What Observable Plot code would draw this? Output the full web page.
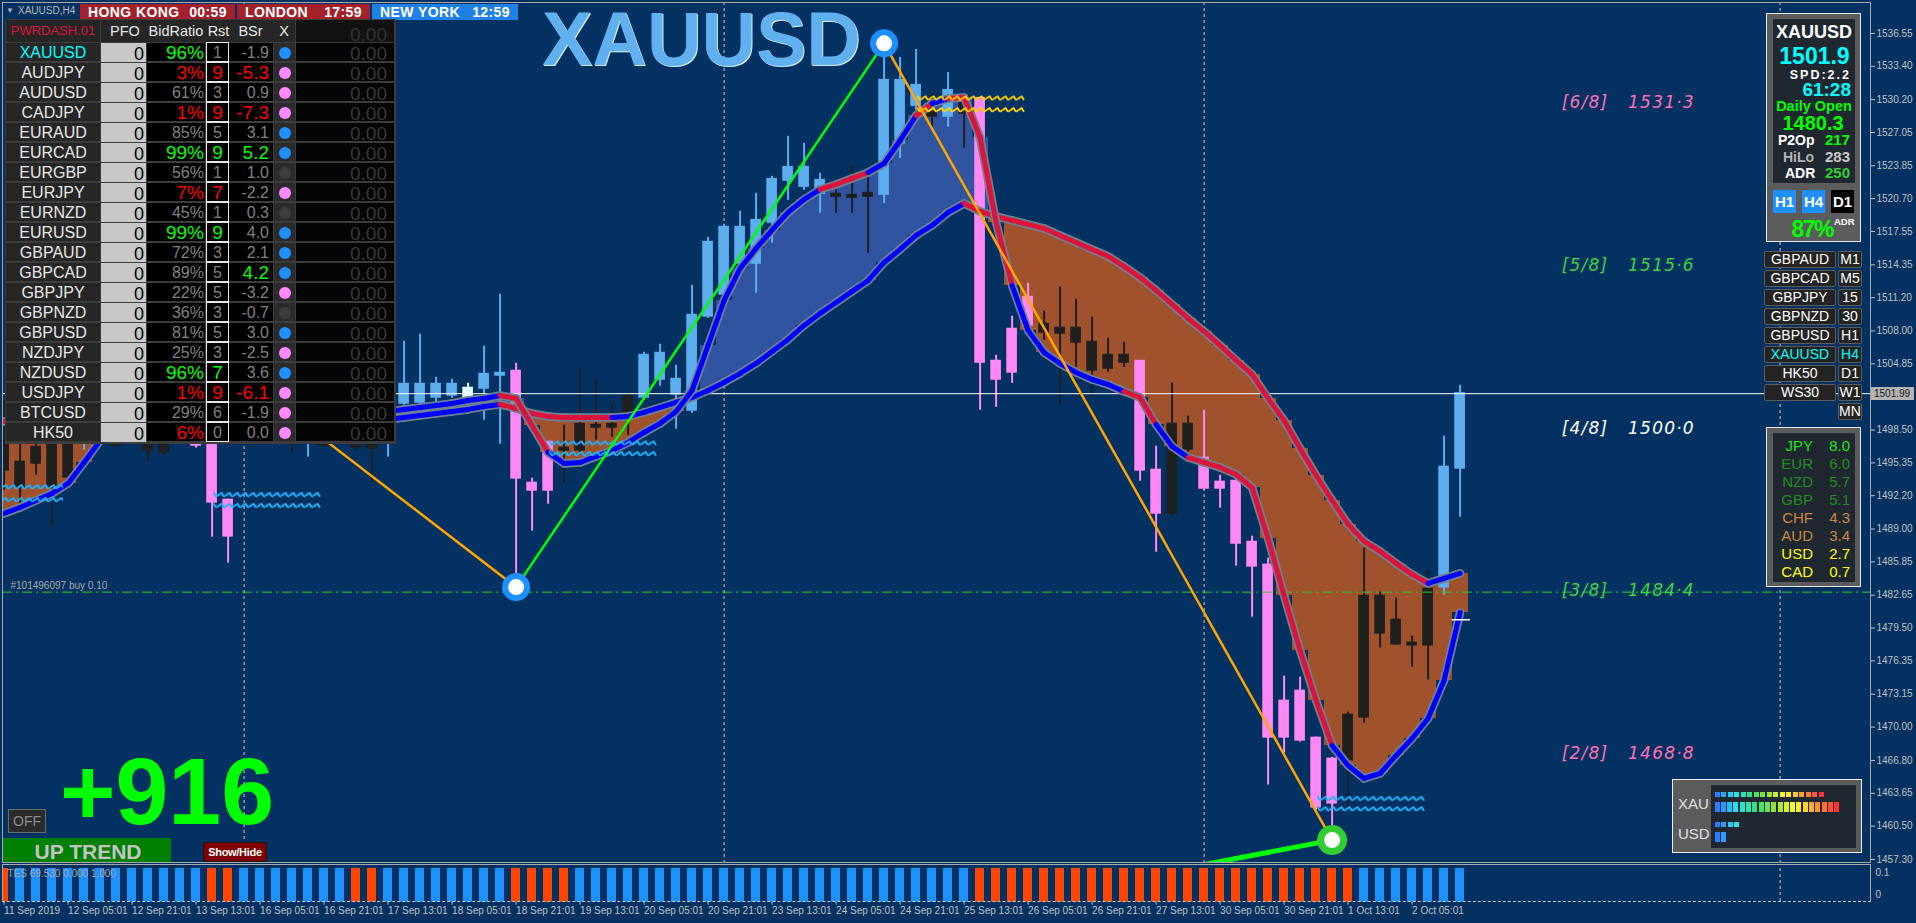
<!DOCTYPE html>
<html>
<head>
<meta charset="utf-8">
<title>XAUUSD H4</title>
<script src="https://cdn.jsdelivr.net/npm/d3@7"></script>
<script src="https://cdn.jsdelivr.net/npm/@observablehq/plot@0.6"></script>
<style>
  html, body { margin:0; padding:0; background:#033262; overflow:hidden; }
  #root { position:relative; width:1916px; height:923px; overflow:hidden; font-family:"Liberation Sans", Arial, sans-serif; }
  #root svg { position:absolute; left:0; max-width:none; }
  .w { position:absolute; box-sizing:border-box; }
  g[aria-description="fib"] text { letter-spacing: 1.2px; }
</style>
</head>
<body>
<div id="root"></div>
<script>
// ====================== DATA ======================
const chartSymbol = "XAUUSD";
const chartPeriod = "H4";

const candleOpen = [1498.49,1495.42,1496.85,1498.96,1497.52,1497.52,1500.40,1501.36,1498.49,1500.40,
 1499.92,1497.52,1501.36,1499.44,1491.77,1498.00,1499.44,1501.36,1500.40,1497.52,
 1499.44,1498.49,1499.44,1499.44,1499.44,1501.07,1501.17,1501.65,1501.84,1501.36,
 1502.51,1503.76,1504.14,1493.40,1497.33,1496.76,1496.57,1498.96,1499.06,1500.11,
 1501.65,1503.37,1501.94,1500.40,1509.42,1511.53,1514.50,1514.50,1518.43,1522.46,
 1521.88,1521.21,1521.12,1521.02,1521.21,1521.12,1526.01,1529.65,1528.98,1528.60,
 1529.94,1530.32,1505.10,1508.17,1511.24,1508.65,1508.27,1508.27,1506.92,1505.67,
 1505.67,1505.10,1494.65,1490.52,1499.06,1495.80,1493.50,1493.59,1487.74,1485.54,
 1472.49,1473.45,1468.94,1466.93,1466.84,1470.96,1482.56,1480.26,1478.06,1477.87,
 1483.43,1494.84];
const candleClose = [1494.65,1493.01,1495.32,1493.01,1493.98,1501.36,1503.25,1497.04,1501.84,1496.57,
 1496.37,1500.88,1497.04,1491.58,1488.32,1501.36,1501.84,1499.44,1498.49,1500.40,
 1497.04,1500.40,1496.85,1496.76,1501.36,1502.89,1502.89,1502.89,1502.89,1502.51,
 1503.85,1503.95,1493.88,1492.73,1492.73,1496.57,1499.06,1498.77,1498.77,1501.74,
 1505.67,1505.87,1503.37,1509.51,1516.51,1517.95,1517.95,1518.62,1522.55,1523.70,
 1523.70,1522.46,1520.92,1520.83,1520.92,1532.05,1532.05,1531.57,1528.60,1531.09,
 1528.88,1505.00,1503.37,1504.05,1508.55,1507.88,1507.79,1506.92,1504.24,1504.43,
 1505.00,1494.65,1490.52,1499.06,1496.66,1492.92,1492.92,1487.64,1485.44,1469.04,
 1469.04,1468.75,1462.33,1462.71,1471.15,1482.56,1479.02,1477.96,1477.87,1483.24,
 1494.94,1501.99];
const candleHigh = [1501.36,1497.52,1498.00,1499.90,1499.44,1502.32,1504.24,1502.32,1502.80,1501.36,
 1500.88,1501.84,1502.32,1505.87,1491.87,1502.32,1502.80,1502.32,1501.36,1501.36,
 1500.40,1501.36,1500.40,1500.88,1502.32,1507.02,1507.69,1503.57,1503.37,1502.99,
 1506.54,1511.53,1504.91,1493.88,1497.33,1498.96,1504.43,1503.37,1500.98,1502.03,
 1505.96,1506.73,1504.72,1512.39,1516.99,1518.24,1519.49,1521.21,1522.84,1526.68,
 1526.01,1523.13,1521.79,1523.80,1522.73,1535.60,1534.25,1535.02,1530.80,1532.81,
 1529.94,1530.32,1505.67,1509.42,1512.58,1509.90,1512.20,1511.05,1509.32,1507.31,
 1506.92,1505.10,1496.95,1502.99,1499.83,1500.40,1494.17,1493.78,1488.32,1486.21,
 1474.89,1474.80,1469.04,1467.10,1471.44,1487.17,1482.95,1482.37,1478.73,1485.06,
 1497.91,1502.80];
const candleLow = [1492.73,1490.81,1494.17,1489.18,1493.21,1496.57,1499.44,1496.85,1497.52,1495.42,
 1496.09,1497.33,1496.76,1488.22,1485.73,1497.52,1498.49,1498.49,1496.29,1495.90,
 1496.85,1497.70,1496.57,1493.40,1495.90,1500.88,1500.88,1501.07,1501.55,1501.36,
 1499.44,1497.14,1483.43,1488.80,1491.39,1493.40,1496.29,1497.52,1497.81,1498.00,
 1501.36,1502.70,1498.58,1500.11,1509.23,1511.24,1513.83,1511.62,1516.41,1520.54,
 1521.50,1519.30,1519.30,1519.30,1515.46,1520.25,1524.57,1529.17,1527.54,1527.54,
 1525.53,1500.40,1500.69,1502.99,1508.07,1507.11,1500.88,1504.52,1501.65,1504.05,
 1504.52,1493.59,1486.78,1490.14,1496.37,1492.73,1491.00,1485.44,1480.55,1464.44,
 1467.51,1468.56,1462.04,1459.16,1462.33,1470.38,1477.58,1477.87,1475.76,1474.51,
 1482.66,1490.14];
// u = bull (blue), d = bear (pink), n = neutral (black), w = marked bar (light cyan)
const candleKind = ["n","n","n","n","n","u","u","n","u","n",
 "n","u","d","d","d","u","u","n","n","u",
 "n","u","n","n","u","u","u","u","u","w",
 "u","u","d","d","d","n","n","n","n","n",
 "u","u","u","u","u","u","u","u","u","u",
 "u","u","n","n","n","u","u","u","n","u",
 "n","d","d","d","d","n","n","n","n","n",
 "n","d","d","n","n","d","d","d","d","d",
 "d","d","d","d","n","n","n","n","n","n",
 "u","u"];
const maFast = [1490.50,1491.07,1491.75,1492.42,1493.38,1495.39,1497.50,1498.46,1498.94,1499.23,
 1499.42,1499.61,1499.61,1498.94,1498.27,1498.27,1498.65,1499.04,1499.32,1499.52,
 1499.71,1499.90,1500.09,1500.19,1500.28,1500.48,1500.67,1500.86,1501.05,1501.34,
 1501.53,1501.82,1501.53,1498.94,1496.35,1495.30,1495.39,1495.97,1496.54,1497.31,
 1498.27,1499.13,1500.28,1502.30,1506.62,1510.93,1514.00,1515.92,1517.69,1519.38,
 1520.62,1521.58,1522.06,1522.64,1523.21,1524.08,1526.28,1528.68,1529.83,1530.31,
 1530.41,1526.57,1518.42,1512.37,1508.06,1505.94,1504.89,1504.03,1503.35,1502.87,
 1502.20,1501.63,1499.04,1496.93,1495.87,1495.39,1494.91,1494.24,1492.99,1488.10,
 1482.63,1477.35,1472.56,1468.24,1466.32,1465.07,1465.55,1467.28,1468.91,1470.83,
 1474.48,1481.00];
const maSlow = [1499.32,1499.42,1499.52,1499.61,1499.61,1499.61,1499.52,1499.42,1499.32,1499.23,
 1499.13,1499.04,1499.04,1498.94,1498.85,1498.85,1498.94,1499.04,1499.04,1499.13,
 1499.13,1499.23,1499.32,1499.42,1499.52,1499.71,1499.90,1500.09,1500.28,1500.48,
 1500.76,1500.96,1500.57,1500.09,1499.80,1499.71,1499.71,1499.71,1499.71,1499.80,
 1500.19,1500.67,1501.15,1501.63,1502.30,1503.07,1503.93,1504.89,1506.04,1507.19,
 1508.54,1509.69,1510.74,1511.80,1512.85,1514.58,1515.83,1517.17,1518.13,1519.38,
 1520.24,1519.47,1518.99,1518.61,1518.23,1517.84,1517.17,1516.50,1515.83,1515.16,
 1514.20,1513.14,1511.90,1510.55,1509.21,1507.96,1506.62,1505.18,1503.83,1501.53,
 1499.42,1496.73,1494.14,1491.75,1489.45,1487.82,1486.86,1485.71,1484.65,1483.79,
 1484.27,1484.75];
// TES histogram state: 1 = up, -1 = down
const trendState = [-1,1,1,1,1,1,1,1,1,1, 1,1,1,-1,-1,1,1,1,1,1, 1,1,-1,-1,1,1,1,1,1,1,
 1,1,-1,-1,-1,-1,1,1,1,1, 1,1,1,1,1,1,1,1,1,1, 1,1,1,1,1,1,1,1,1,1,
 1,-1,-1,-1,-1,-1,-1,-1,-1,-1, -1,-1,-1,-1,-1,-1,-1,-1,-1,-1, -1,-1,-1,-1,-1,1,1,1,1,1, 1,1];
const timeTickIndex = [0,4,8,12,16,20,24,28,32,36,40,44,48,52,56,60,64,68,72,76,80,84,88];
const timeTickLabel = ["11 Sep 2019","12 Sep 05:01","12 Sep 21:01","13 Sep 13:01","16 Sep 05:01","16 Sep 21:01",
 "17 Sep 13:01","18 Sep 05:01","18 Sep 21:01","19 Sep 13:01","20 Sep 05:01","20 Sep 21:01","23 Sep 13:01",
 "24 Sep 05:01","24 Sep 21:01","25 Sep 13:01","26 Sep 05:01","26 Sep 21:01","27 Sep 13:01","30 Sep 05:01",
 "30 Sep 21:01","1 Oct 13:01","2 Oct 05:01"];
const gridIndex = [15, 45, 75, 111];
const priceTicks = [1536.55,1533.40,1530.20,1527.05,1523.85,1520.70,1517.55,1514.35,1511.20,1508.00,1504.85,
 1501.70,1498.50,1495.35,1492.20,1489.00,1485.85,1482.65,1479.50,1476.35,1473.15,1470.00,1466.80,1463.65,1460.50,1457.30];
const priceMin = 1457.01, priceMax = 1539.52;      // visible price range of the window
const xStart = -0.1, xEnd = 116.65;                  // visible bar range of the window
const currentPrice = 1501.99;
const dailyOpen = 1480.3;
const orderPrice = 1482.95;
const orderLabel = "#101496097 buy 0.10";
const fibFrac = ["6/8","5/8","4/8","3/8","2/8"];
const fibLevel = [1531.3, 1515.6, 1500.0, 1484.4, 1468.8];
const swingIndex = [13, 32, 55, 83];
const trendAnchorIndex = 60, trendAnchorPrice = 1452.4;
const zigFrom = [-1, -1, 13.1, 13.1, 34.1, 34.1, 57.1, 57.1, 82.1, 82.1];
const zigTo = [3.7, 3.7, 19.8, 19.8, 40.8, 40.8, 63.8, 63.8, 88.8, 88.8];
const zigLevel = [1493.0, 1491.77, 1492.25, 1491.2, 1497.2, 1496.18, 1530.3, 1529.17, 1463.1, 1462.1];

// dashboard
const dashSymbols = ["XAUUSD","AUDJPY","AUDUSD","CADJPY","EURAUD","EURCAD","EURGBP","EURJPY","EURNZD","EURUSD",
 "GBPAUD","GBPCAD","GBPJPY","GBPNZD","GBPUSD","NZDJPY","NZDUSD","USDJPY","BTCUSD","HK50"];
const dashPFO = [0,0,0,0,0,0,0,0,0,0,0,0,0,0,0,0,0,0,0,0];
const dashBidRatio = [96,3,61,1,85,99,56,7,45,99,72,89,22,36,81,25,96,1,29,6];
const dashRst = [1,9,3,9,5,9,1,7,1,9,3,5,5,3,5,3,7,9,6,0];
const dashBSr = [-1.9,-5.3,0.9,-7.3,3.1,5.2,1.0,-2.2,0.3,4.0,2.1,4.2,-3.2,-0.7,3.0,-2.5,3.6,-6.1,-1.9,0.0];
const dashDir = [1,-1,-1,-1,1,1,0,-1,0,1,1,1,-1,0,1,-1,1,-1,-1,-1];
const dashProfit = [0,0,0,0,0,0,0,0,0,0,0,0,0,0,0,0,0,0,0,0];
// clocks
const clockCity = ["HONG KONG","LONDON","NEW YORK"];
const clockTime = ["00:59","17:59","12:59"];
// info panel
const infoBid = "1501.9", infoSpread = "2.2", infoTimer = "61:28", infoDailyOpen = "1480.3";
const infoP2Op = 217, infoHiLo = 283, infoADR = 250, infoADRpct = 87;
const symbolButtons = ["GBPAUD","GBPCAD","GBPJPY","GBPNZD","GBPUSD","XAUUSD","HK50","WS30"];
const tfButtons = ["M1","M5","15","30","H1","H4","D1","W1","MN"];
const currencies = ["JPY","EUR","NZD","GBP","CHF","AUD","USD","CAD"];
const currencyStrength = [8.0,6.0,5.7,5.1,4.3,3.4,2.7,0.7];
const meterNames = ["XAU","USD"];
const meterShort = [17, 4];
const meterLong = [20, 2];
const bigPoints = "+916";
const trendText = "UP TREND";

// ====================== DERIVED ======================
const N = candleOpen.length, lastIdx = N - 1;
const bars = candleOpen.map((o, i) => ({i, o, c: candleClose[i], h: candleHigh[i], l: candleLow[i],
  k: candleKind[i], f: maFast[i], s: maSlow[i], t: trendState[i]}));
const candleFill = {u: "#5caeef", d: "#ff88f5", n: "#1f1f1f", w: "#e0ffff"};
const maSegments = ma => bars.slice(1).map(b => ({x1: b.i - 1, y1: ma[b.i - 1], x2: b.i, y2: ma[b.i], above: b.c >= ma[b.i]}));
const fastSeg = maSegments(maFast), slowSeg = maSegments(maSlow);
const swings = swingIndex.map((i, k) => ({i, p: k % 2 === 0 ? candleHigh[i] : candleLow[i], last: k === swingIndex.length - 1}));
const legs = swings.slice(1).map((s, k) => ({x1: swings[k].i, y1: swings[k].p, x2: s.i, y2: s.p, rising: s.p > swings[k].p}));
const lastSwing = swings[swings.length - 1];
const trendSeg = [{x1: trendAnchorIndex, y1: trendAnchorPrice, x2: lastSwing.i, y2: lastSwing.p}];
const zigs = zigLevel.map((p, k) => ({k, p, from: zigFrom[k], to: zigTo[k]}));
const fibs = fibLevel.map((p, k) => ({p, frac: fibFrac[k]}));
const fibColor = {"6/8": "#ff6eb4", "2/8": "#ff6eb4", "5/8": "#3fd03f", "3/8": "#3fd03f", "4/8": "#ffffff"};
const tickLabel = new Map(timeTickIndex.map((d, k) => [d, timeTickLabel[k]]));
const zigHalf = 0.27;

const root = document.getElementById("root");
const baseStyle = {background: "transparent", color: "#c0c0c0", fontFamily: "'Liberation Sans', Arial, sans-serif", fontSize: "10px", overflow: "visible"};

// ====================== MAIN CHART ======================
const main = Plot.plot({
  width: 1916, height: 864,
  marginLeft: 2, marginRight: 46, marginTop: 2, marginBottom: 2,
  x: {domain: [xStart, xEnd], axis: null},
  y: {domain: [priceMin, priceMax], axis: null},
  color: {type: "identity"},
  style: baseStyle,
  marks: [
    Plot.ruleX(gridIndex, {stroke: "#c8c8c8", strokeDasharray: "3,3", strokeWidth: 1}),
    Plot.rect(bars, {x1: d => d.i - 0.5, x2: d => d.i + 0.5, y1: "f", y2: "s", fill: d => d.f >= d.s ? "#3054a0" : "#a0522d", shapeRendering: "crispEdges", clip: true}),
    Plot.ruleX(bars, {x: "i", y1: "l", y2: "h", stroke: d => candleFill[d.k], strokeWidth: 2, clip: true}),
    Plot.rect(bars, {x1: d => d.i - 0.333, x2: d => d.i + 0.333, y1: "o", y2: "c", fill: d => candleFill[d.k], insetTop: -1, insetBottom: -1, clip: true}),
    Plot.ruleY([currentPrice], {stroke: "#ffffff", strokeWidth: 1}),
    Plot.ruleY([orderPrice], {stroke: "#2ecc2e", strokeDasharray: "10,4,2,4", strokeWidth: 1}),
    Plot.text([orderLabel], {x: () => xStart, y: () => orderPrice, dx: 8, dy: -6, textAnchor: "start", fill: "#a8a8a8", fontSize: 10}),
    Plot.link(slowSeg, {x1: "x1", y1: "y1", x2: "x2", y2: "y2", stroke: "#708090", strokeWidth: 8.5, strokeLinecap: "round", clip: true}),
    Plot.link(slowSeg, {x1: "x1", y1: "y1", x2: "x2", y2: "y2", stroke: d => d.above ? "#0000ff" : "#dc143c", strokeWidth: 5, strokeLinecap: "round", clip: true}),
    Plot.link(fastSeg, {x1: "x1", y1: "y1", x2: "x2", y2: "y2", stroke: "#708090", strokeWidth: 8.5, strokeLinecap: "round", clip: true}),
    Plot.link(fastSeg, {x1: "x1", y1: "y1", x2: "x2", y2: "y2", stroke: d => d.above ? "#0000ff" : "#dc143c", strokeWidth: 5, strokeLinecap: "round", clip: true}),
    Plot.rect(zigs, {x1: "from", x2: "to", y1: d => d.p + zigHalf, y2: d => d.p - zigHalf, fill: d => `url(#zz${d.k})`, clip: true}),
    Plot.link(legs, {x1: "x1", y1: "y1", x2: "x2", y2: "y2", stroke: d => d.rising ? "#00ff00" : "#ffa500", strokeWidth: 2.5, clip: true}),
    Plot.link(trendSeg, {x1: "x1", y1: "y1", x2: "x2", y2: "y2", stroke: "#00ff00", strokeWidth: 5, clip: true}),
    Plot.ruleY([dailyOpen], {x1: () => lastIdx - 0.5, x2: () => lastIdx + 0.65, stroke: "#ffffff", strokeWidth: 1.5}),
    Plot.dot(swings.filter(s => !s.last), {x: "i", y: "p", r: 14, fill: "#1e90ff"}),
    Plot.dot(swings.filter(s => s.last), {x: "i", y: "p", r: 15, fill: "#32cd32"}),
    Plot.dot(swings, {x: "i", y: "p", r: 8, fill: "#ffffff"}),
    Plot.text(fibs, {x: () => lastIdx + 6.35, y: "p", dy: 14, text: d => `[${d.frac}]`, textAnchor: "start",
      fill: d => fibColor[d.frac], fontSize: 17, fontStyle: "italic", fontFamily: "'DejaVu Sans', sans-serif", ariaDescription: "fib"}),
    Plot.text(fibs, {x: () => lastIdx + 10.5, y: "p", dy: 14, text: d => d.p.toFixed(1).replace(".", "·"), textAnchor: "start",
      fill: d => fibColor[d.frac], fontSize: 17, fontStyle: "italic", fontFamily: "'DejaVu Sans', sans-serif", ariaDescription: "fib"}),
    Plot.axisY(priceTicks, {anchor: "right", tickSize: 4, tickPadding: 2, tickFormat: d => d.toFixed(2), fill: "#c0c0c0", stroke: "#c0c0c0", fontSize: 10}),
    Plot.frame({stroke: "#a8a8a8"})
  ]
});
main.style.top = "0px";
root.appendChild(main);

// zigzag line textures (support = cyan, resistance = gold)
const ySc = d3.scaleLinear([priceMin, priceMax], [862, 2]);
const defs = d3.select(main).insert("defs", ":first-child");
zigs.forEach(z => {
  const top = ySc(z.p + zigHalf), h = ySc(z.p - zigHalf) - top;
  const pat = defs.append("pattern").attr("id", `zz${z.k}`).attr("patternUnits", "userSpaceOnUse")
    .attr("x", 0).attr("y", top).attr("width", 8).attr("height", 80);
  pat.append("path").attr("d", `M0,${h - 0.9} L5.6,0.9 L8,${h - 0.9}`).attr("fill", "none")
    .attr("stroke", z.p > currentPrice ? "#ffd200" : "#1ab4ff").attr("stroke-width", 1.8);
});

// ====================== TES SUB WINDOW ======================
const sub = Plot.plot({
  width: 1916, height: 59,
  marginLeft: 2, marginRight: 46, marginTop: 4, marginBottom: 21.3,
  x: {domain: [xStart, xEnd], axis: null},
  y: {domain: [0, 0.1], axis: null},
  color: {type: "identity"},
  style: baseStyle,
  marks: [
    Plot.ruleX(gridIndex, {stroke: "#c8c8c8", strokeDasharray: "3,3", strokeWidth: 1}),
    Plot.rect(bars, {x1: d => d.i - 0.27, x2: d => d.i + 0.27, y1: 0, y2: 1, fill: d => d.t > 0 ? "#1e90ff" : "#ff4500", shapeRendering: "crispEdges", clip: true}),
    Plot.text(["TES 69.530 0.000 1.000"], {frameAnchor: "top-left", dx: 5, dy: 1, textAnchor: "start", fill: "#a8a8a8", fontSize: 10}),
    Plot.text([0.1], {x: () => xEnd, y: d => d, dx: 5, dy: 4, text: d => "0.1", textAnchor: "start", fill: "#c0c0c0", fontSize: 10}),
    Plot.text([0], {x: () => xEnd, y: d => d, dx: 5, dy: -7, text: d => "0", textAnchor: "start", fill: "#c0c0c0", fontSize: 10}),
    Plot.axisX(timeTickIndex, {anchor: "bottom", tickSize: 3, tickPadding: 2, tickFormat: d => tickLabel.get(d), textAnchor: "start", fill: "#c0c0c0", stroke: "#c0c0c0", fontSize: 10})
  ]
});
sub.style.top = "864px";
root.appendChild(sub);

// ====================== WIDGETS ======================
function div(css, text) {
  const e = document.createElement("div");
  e.className = "w";
  e.style.cssText = css;
  if (text !== undefined && text !== null) e.textContent = text;
  root.appendChild(e);
  return e;
}
function label(text, o) {
  const h = o.h || Math.round(o.size * 1.1);
  let css = `top:${o.cy - h / 2}px;height:${h}px;line-height:${h}px;font-size:${o.size}px;color:${o.color || "#fff"};` +
    `font-weight:${o.weight || "normal"};white-space:nowrap;`;
  if (o.ls) css += `letter-spacing:${o.ls}px;`;
  if (o.family) css += `font-family:${o.family};`;
  if (o.shadow) css += `text-shadow:${o.shadow};`;
  if (o.cx !== undefined) css += `left:${o.cx - 200}px;width:400px;text-align:center;`;
  else if (o.rx !== undefined) css += `left:${o.rx - 400}px;width:400px;text-align:right;`;
  else css += `left:${o.x}px;`;
  return div(css, text);
}

// sub window border
div("left:2px;top:864px;width:1869px;height:38px;border:1px solid #a8a8a8;border-bottom:1px dashed #c8c8c8;");

// current price tag on the axis
const cpY = ySc(currentPrice);
div(`left:1871px;top:${cpY - 6.5}px;width:43px;height:13px;background:#b3b3b3;`);
label(currentPrice.toFixed(2), {x: 1874, cy: cpY, size: 10, color: "#1a1a1a"});

// top-left symbol caption and clocks
label("▼", {x: 6, cy: 10.5, size: 8, color: "#b0b0b0"});
label(`${chartSymbol},${chartPeriod}`, {x: 18, cy: 10.5, size: 10, color: "#b8b8b8"});
const clockBox = [[80, 155, "#a3212b"], [237, 133, "#a3212b"], [372, 146, "#1f80e8"]];
clockCity.forEach((c, k) => {
  const [l, w, bg] = clockBox[k];
  div(`left:${l}px;top:4px;width:${w}px;height:16px;background:${bg};`);
  label(c, {x: l + 8, cy: 12, size: 14, weight: "bold", ls: 0.4, color: "#ffffff"});
  label(clockTime[k], {rx: l + w - 8, cy: 12, size: 14, weight: "bold", ls: 0.4, color: "#ffffff"});
});

// big symbol title
label(chartSymbol, {x: 542, cy: 39, size: 75.5, h: 86, weight: "bold", color: "#60b0ef", shadow: "1px 1px 0 #d6ecff"});

// dashboard
div("left:5px;top:19px;width:391px;height:425px;background:#3c3c3c;");
div("left:6px;top:20px;width:94px;height:22px;background:#262626;");
label("PWRDASH.01", {cx: 53, cy: 31, size: 13, color: "#dc143c"});
div("left:101px;top:20px;width:194px;height:22px;background:#262626;");
[["PFO", 125], ["BidRatio", 176], ["Rst", 218.5], ["BSr", 250.5], ["X", 284]].forEach(([t, cx]) =>
  label(t, {cx, cy: 31, size: 14.5, color: "#e6e6e6"}));
div("left:296px;top:20px;width:98px;height:22px;background:#111111;");
label("0.00", {rx: 387, cy: 34, size: 19, color: "#333333"});
dashSymbols.forEach((sym, r) => {
  const top = 43 + 20 * r, cy = top + 9.5;
  const bid = dashBidRatio[r];
  const ext = bid >= 90 ? "#00ff00" : bid <= 10 ? "#ff0000" : null;
  const rstColor = ext && dashRst[r] >= 7 ? ext : null;
  const b = dashBSr[r];
  const bsrColor = b > 4.05 ? "#00ff00" : b < -5 ? "#ff0000" : null;
  div(`left:6px;top:${top}px;width:94px;height:18px;background:#262626;`);
  label(sym, {cx: 53, cy, size: 16, color: sym === chartSymbol ? "#00ffff" : "#e6e6e6"});
  div(`left:101px;top:${top}px;width:45px;height:19px;background:#c8c8c8;`);
  label(String(dashPFO[r]), {rx: 144, cy: cy + 1, size: 18, color: "#000000"});
  div(`left:147px;top:${top}px;width:58px;height:18px;background:#000000;`);
  label(bid + "%", {rx: 204, cy, size: ext ? 19 : 16, color: ext || "#808080"});
  div(`left:206px;top:${top - 1}px;width:23px;height:20px;background:#000000;border:1px solid #e6e6e6;`);
  label(String(dashRst[r]), {cx: 217.5, cy, size: rstColor ? 19 : 16, color: rstColor || "#808080"});
  div(`left:229px;top:${top}px;width:44px;height:18px;background:#000000;`);
  label(b.toFixed(1), {rx: 269, cy, size: bsrColor ? 19 : 16, color: bsrColor || "#808080"});
  div(`left:274px;top:${top}px;width:21px;height:18px;background:#2b2b2b;`);
  const dc = dashDir[r] > 0 ? "#1e90ff" : dashDir[r] < 0 ? "#ff88ff" : "#3d3d3d";
  div(`left:278.5px;top:${cy - 6}px;width:12px;height:12px;border-radius:50%;background:${dc};`);
  div(`left:296px;top:${top}px;width:98px;height:18px;background:#050505;`);
  label(dashProfit[r].toFixed(2), {rx: 387, cy: cy + 1, size: 19, color: "#383838"});
});

// big points counter and buttons
label(bigPoints, {x: 60, cy: 791, size: 95, h: 106, weight: "bold", color: "#00ff00"});
div("left:8px;top:809px;width:38px;height:24px;background:#2b2b2b;border:1px solid #6a6a6a;");
label("OFF", {cx: 27, cy: 821, size: 14, color: "#8c8c8c"});
div("left:3px;top:838px;width:168px;height:24px;background:#008000;");
label(trendText, {cx: 88, cy: 851, size: 21, weight: "bold", color: "#c4c4c4"});
div("left:203px;top:842px;width:64px;height:20px;background:#800000;border:1px solid #1a1a1a;");
label("Show/Hide", {cx: 235, cy: 852, size: 11, weight: "bold", ls: -0.3, color: "#ffffff"});

// right info panel
div("left:1766px;top:13px;width:95px;height:229px;background:#5c5c5c;border:1px solid #e6e6e6;");
div("left:1773px;top:19px;width:82px;height:164px;background:#1f2731;");
label(chartSymbol, {cx: 1814, cy: 32, size: 18, weight: "bold", color: "#ffffff"});
label(infoBid, {cx: 1814.5, cy: 56, size: 23, h: 20, weight: "bold", color: "#00ffff"});
label(`SPD:${infoSpread}`, {rx: 1851, cy: 75, size: 12.5, h: 12, weight: "bold", ls: 2, color: "#ffffff"});
label(infoTimer, {rx: 1851, cy: 90, size: 19, h: 16, weight: "bold", color: "#00ffff"});
label("Daily Open", {cx: 1814, cy: 106, size: 14.5, h: 14, weight: "bold", color: "#00ff00"});
label(infoDailyOpen, {cx: 1813, cy: 123, size: 20, h: 17, weight: "bold", color: "#00ff00"});
label("P2Op", {x: 1778, cy: 140, size: 14, h: 14, weight: "bold", color: "#ffffff"});
label(String(infoP2Op), {rx: 1850, cy: 140, size: 15, h: 14, weight: "bold", color: "#00ff00"});
label("HiLo", {x: 1783, cy: 157, size: 14, h: 14, weight: "bold", color: "#b4b4b4"});
label(String(infoHiLo), {rx: 1850, cy: 157, size: 15, h: 14, weight: "bold", color: "#c8c8c8"});
label("ADR", {x: 1785, cy: 173, size: 14, h: 14, weight: "bold", color: "#ffffff"});
label(String(infoADR), {rx: 1850, cy: 173, size: 15, h: 14, weight: "bold", color: "#32cd32"});
[["H1", 1773, "#1e90ff"], ["H4", 1802, "#1e90ff"], ["D1", 1831, "#000000"]].forEach(([t, l, bg]) => {
  div(`left:${l}px;top:190px;width:23px;height:23px;background:${bg};`);
  label(t, {cx: l + 11.5, cy: 201.5, size: 15, weight: "bold", color: "#ffffff"});
});
label(infoADRpct + "%", {rx: 1833, cy: 229, size: 23, h: 20, weight: "bold", ls: -1.5, color: "#00ff00"});
label("ADR", {x: 1834, cy: 222, size: 9.5, h: 10, weight: "bold", color: "#ffffff"});

// symbol / timeframe buttons
tfButtons.forEach((tf, k) => {
  const top = 251 + 19 * k;
  if (k < symbolButtons.length) {
    div(`left:1764px;top:${top}px;width:72px;height:17px;background:#232323;border:1px solid #5c5c5c;border-radius:2px;`);
    label(symbolButtons[k], {cx: 1800, cy: top + 8.5, size: 14, color: symbolButtons[k] === chartSymbol ? "#00ffff" : "#ffffff"});
  }
  div(`left:1838px;top:${top}px;width:24px;height:17px;background:#232323;border:1px solid #5c5c5c;border-radius:2px;`);
  label(tf, {cx: 1850, cy: top + 8.5, size: 14, color: tf === chartPeriod ? "#00ffff" : "#ffffff"});
});

// currency strength panel
div("left:1766px;top:427px;width:95px;height:160px;background:#5c5c5c;border:1px solid #e6e6e6;");
div("left:1773px;top:433px;width:82px;height:149px;background:#1f2731;");
currencies.forEach((c, k) => {
  const v = currencyStrength[k];
  const col = v >= 7.5 ? "#19e619" : v >= 5 ? "#238b23" : v >= 3 ? "#cd853f" : "#ffff00";
  const cy = 445 + 18 * k;
  label(c, {rx: 1813, cy, size: 15, color: col});
  label(v.toFixed(1), {rx: 1850, cy, size: 15, color: col});
});

// XAU / USD strength meter
div("left:1672px;top:779px;width:190px;height:74px;background:#5c5c5c;border:1px solid #f0f0f0;");
div("left:1711px;top:785px;width:145px;height:63px;background:#1f2731;");
const meterColor = d3.scaleLinear().domain([0, 0.17, 0.33, 0.5, 0.65, 0.82, 1])
  .range(["#2f7bff", "#20e6f0", "#30e07a", "#a6e030", "#ffff30", "#ffa030", "#ff3030"]);
meterNames.forEach((m, r) => {
  const base = 792 + 30 * r;
  label(m, {x: 1678, cy: base + 11, size: 15, color: "#e0e0e0"});
  for (let k = 0; k < meterShort[r]; k++)
    div(`left:${1714.5 + 6.5 * k}px;top:${base}px;width:5px;height:5px;background:${meterColor(k / 16)};`);
  for (let k = 0; k < meterLong[r]; k++)
    div(`left:${1714.5 + 6.3 * k}px;top:${base + 10}px;width:5px;height:10px;background:${meterColor(k / 19)};`);
});
</script>
</body>
</html>
